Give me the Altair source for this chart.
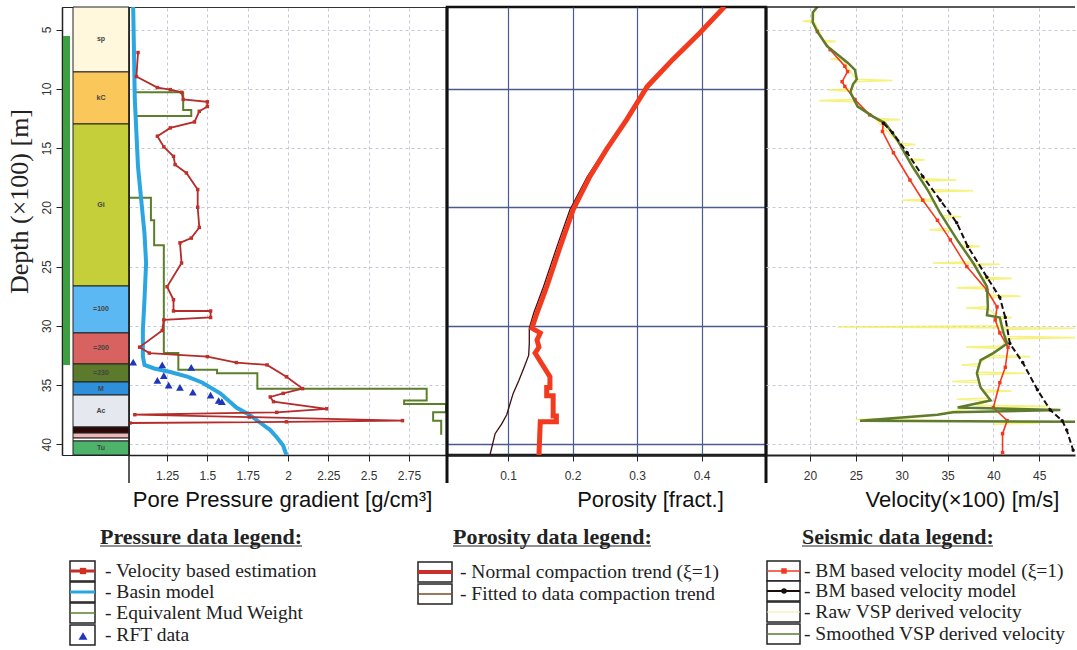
import altair as alt
import pandas as pd

# ---------------- data ----------------
# lithology column (depth in x100 m)
litho_names = ["sp", "kC", "Gi", "=100", "=200", "=230", "M", "Ac", "", "", "", "Tu"]
litho_top = [3.1, 8.58, 12.97, 26.64, 30.6, 33.22, 34.74, 35.84, 38.54, 39.05, 39.47, 39.72]
litho_bot = [8.58, 12.97, 26.64, 30.6, 33.22, 34.74, 35.84, 38.54, 39.05, 39.47, 39.72, 40.9]
litho_col = ["#FFF8DC", "#F9C75A", "#C5CF3A", "#5CB8F2", "#D7625F", "#5C7A2C",
             "#2E8FDB", "#E6E8F0", "#2A0808", "#F2B5B5", "#FFFFFF", "#4DB36A"]
gbar_top = [5.55]
gbar_bot = [33.3]

# pressure panel
basin_p = [1.04, 1.05, 1.07, 1.11, 1.12, 1.11, 1.10, 1.10, 1.11, 1.17, 1.27, 1.38, 1.47,
           1.58, 1.68, 1.76, 1.83, 1.89, 1.93, 1.97, 1.99]
basin_d = [3.1, 10.9, 16.6, 22.2, 24.7, 27.8, 30.4, 32.6, 33.3, 33.6, 33.9, 34.3, 34.8,
           35.7, 36.9, 37.5, 38.2, 38.8, 39.4, 40.1, 40.9]

vest_p = [1.07, 1.06, 1.19, 1.27, 1.34, 1.35, 1.50, 1.50, 1.45, 1.42, 1.27, 1.19, 1.23,
          1.29, 1.30, 1.37, 1.44, 1.44, 1.45, 1.40, 1.33, 1.34, 1.25, 1.29, 1.29, 1.52,
          1.52, 1.23, 1.22, 1.08, 1.14, 1.50, 1.68, 1.87, 1.99, 2.09, 1.97, 1.89, 1.91,
          2.24, 1.93, 1.05, 1.76, 2.71, 1.99, 1.02]
vest_d = [6.94, 8.97, 9.9, 10.07, 10.3, 10.9, 11.1, 11.5, 11.9, 12.8, 13.3, 14.0, 14.9,
          15.7, 16.4, 17.1, 18.5, 20.0, 21.7, 22.6, 23.0, 24.7, 26.7, 27.8, 28.75, 28.75,
          29.3, 29.5, 30.4, 31.8, 32.3, 32.6, 33.1, 33.3, 34.3, 35.3, 35.7, 36.0, 36.4,
          37.0, 37.3, 37.5, 37.7, 38.0, 38.1, 38.2]

emw_seg = ["a"] * 6 + ["b"] * 23
emw_p = [1.05, 1.35, 1.35, 1.40, 1.40, 1.05,
         1.02, 1.15, 1.15, 1.17, 1.17, 1.23, 1.23, 1.32, 1.32, 1.56, 1.56, 1.81, 1.81,
         2.86, 2.86, 2.72, 2.72, 2.98, 2.98, 2.90, 2.90, 2.95, 2.95]
emw_d = [10.3, 10.3, 11.8, 11.8, 12.3, 12.3,
         19.2, 19.2, 21.1, 21.1, 23.2, 23.2, 32.3, 32.3, 33.7, 33.7, 34.0, 34.0, 35.3,
         35.3, 36.3, 36.3, 36.6, 36.6, 37.3, 37.3, 38.0, 38.0, 39.2]

rft_p = [1.04, 1.22, 1.40, 1.23, 1.19, 1.26, 1.33, 1.41, 1.52, 1.57, 1.59]
rft_d = [33.07, 33.3, 33.5, 34.2, 34.6, 35.0, 35.2, 35.6, 35.85, 36.3, 36.4]

# porosity panel
normal_p = [0.436, 0.398, 0.356, 0.316, 0.284, 0.253, 0.227, 0.201, 0.181, 0.160, 0.145,
            0.137, 0.150, 0.145, 0.148, 0.142, 0.165, 0.165, 0.160, 0.160, 0.170, 0.170,
            0.175, 0.175, 0.150, 0.148]
normal_d = [3.06, 5.25, 7.5, 9.8, 12.6, 15.1, 17.4, 20.2, 23.3, 26.7, 28.9, 30.2, 30.6,
            31.2, 31.8, 32.3, 34.3, 35.2, 35.2, 35.9, 35.9, 37.6, 37.6, 38.1, 38.1, 40.9]
fitted_p = [0.434, 0.396, 0.354, 0.314, 0.282, 0.251, 0.223, 0.196, 0.176, 0.155, 0.140,
            0.133, 0.133, 0.132, 0.125, 0.117, 0.108, 0.103, 0.098, 0.090, 0.080, 0.076, 0.072]
fitted_d = [3.06, 5.25, 7.5, 9.8, 12.6, 15.1, 17.4, 20.2, 23.3, 26.7, 28.9, 30.2, 31.5,
            32.5, 33.5, 34.6, 35.7, 36.6, 37.5, 38.3, 39.1, 40.0, 40.9]

# velocity panel (x100 m/s)
bmxi_v = [20.8, 22.2, 23.8, 24.1, 23.5, 23.8, 24.9, 26.5, 28.0, 27.9, 29.1, 30.9, 32.3,
          33.9, 35.3, 37.1, 39.3, 40.4, 40.2, 40.7, 41.6, 41.3, 40.7, 40.0, 41.5, 41.0, 41.0]
bmxi_d = [5.17, 6.7, 8.1, 8.55, 9.4, 9.8, 10.9, 12.2, 12.9, 13.6, 15.4, 17.7, 19.4, 21.1,
          22.75, 25.0, 27.0, 28.4, 29.5, 30.6, 31.8, 33.5, 34.8, 36.9, 38.0, 39.1, 40.7]
bm_v = [28.0, 29.0, 30.6, 32.3, 34.2, 36.0, 37.2, 39.3, 40.7, 41.3, 41.8, 43.2, 44.8,
        46.2, 47.5, 48.0, 48.7]
bm_d = [12.9, 13.7, 15.4, 17.4, 19.4, 21.3, 23.3, 25.9, 27.6, 29.3, 31.5, 33.1, 35.4,
        37.1, 38.0, 38.8, 40.5]
smooth_v = [20.85, 20.3, 20.3, 20.85, 21.85, 23.3, 24.1, 24.9, 25.1, 24.7, 24.4, 25.2,
            26.9, 28.2, 29.5, 31.2, 32.8, 34.2, 36.05, 37.8, 39.3, 39.4, 39.3, 40.7, 41.1,
            41.5, 40.0, 38.6, 38.2, 38.6, 39.7, 36.1, 47.3, 35.6, 33.9, 25.45, 49.0]
smooth_d = [3.06, 3.56, 4.4, 5.25, 6.4, 7.3, 7.8, 8.4, 9.2, 9.6, 10.3, 11.5, 12.35, 12.9,
            14.3, 16.6, 18.5, 20.5, 22.75, 24.7, 26.7, 28.4, 29.1, 29.3, 30.6, 31.5, 32.3,
            32.9, 34.0, 35.2, 36.3, 36.9, 37.1, 37.3, 37.5, 38.0, 38.1]
raw_v = [20.5, 20.4, 19.2, 20.5, 21.5, 22.8, 21.6, 23.4, 22.3, 23.6, 25.0, 29.0, 25.0,
         24.5, 22.0, 24.5, 24.8, 21.0, 24.9, 27.1, 29.8, 27.3, 29.7, 31.5, 29.9, 30.7,
         32.5, 30.9, 32.1, 36.0, 32.3, 32.8, 37.8, 33.0, 33.4, 30.0, 33.6, 34.4, 36.5,
         34.6, 35.2, 33.0, 35.4, 36.4, 38.5, 36.6, 37.7, 33.4, 40.7, 37.9, 38.7, 42.0,
         38.9, 39.2, 36.0, 39.3, 39.4, 43.0, 39.4, 39.4, 37.0, 39.5, 40.4, 42.0, 40.6,
         40.8, 23.0, 49.0, 41.0, 41.2, 49.0, 41.3, 41.0, 37.0, 40.8, 39.4, 44.0, 39.2,
         38.5, 36.5, 38.4, 38.2, 43.5, 38.2, 38.4, 35.5, 38.4, 38.8, 42.0, 38.9, 39.5,
         36.0, 39.6, 38.2, 46.0, 37.8, 34.2, 34.0, 33.0, 30.0, 25.0, 35.0, 40.0, 45.0, 40.0]
raw_d = [3.2, 4.2, 4.3, 4.4, 5.9, 6.0, 6.1, 7.4, 7.5, 7.6, 9.2, 9.3, 9.4, 10.0, 10.1,
         10.2, 10.9, 11.0, 11.1, 12.5, 12.6, 12.7, 14.6, 14.7, 14.8, 15.9, 16.0, 16.1,
         17.6, 17.7, 17.8, 18.5, 18.6, 18.7, 19.3, 19.4, 19.5, 20.7, 20.8, 20.9, 21.8,
         21.9, 22.0, 23.2, 23.3, 23.4, 24.6, 24.7, 24.8, 24.9, 25.9, 26.0, 26.1, 26.7,
         26.8, 26.9, 27.4, 27.5, 27.6, 28.4, 28.5, 28.6, 29.2, 29.3, 29.4, 30.0, 30.1,
         30.2, 30.3, 30.9, 31.0, 31.1, 31.7, 31.8, 31.9, 32.5, 32.6, 32.7, 33.2, 33.3,
         33.4, 33.9, 34.0, 34.1, 34.6, 34.7, 34.8, 35.4, 35.5, 35.6, 36.1, 36.2, 36.3,
         36.7, 36.8, 36.9, 37.4, 37.5, 37.6, 37.8, 37.9, 38.0, 38.1, 38.2, 38.3]

depth_ticks = [5, 10, 15, 20, 25, 30, 35, 40]
press_ticks = [1.25, 1.5, 1.75, 2, 2.25, 2.5, 2.75]
poro_ticks = [0.1, 0.2, 0.3, 0.4]
poro_hgrid = [10, 20, 30, 40]
vel_ticks = [20, 25, 30, 35, 40, 45]

press_legend = ["- Velocity based estimation", "- Basin model",
                "- Equivalent Mud Weight", "- RFT data"]
poro_legend = ["- Normal compaction trend (\u03be=1)", "- Fitted to data compaction trend"]
seis_legend = ["- BM based velocity model (\u03be=1)", "- BM based velocity model",
               "- Raw VSP derived velocity", "- Smoothed VSP derived velocity"]

# ---------------- helpers ----------------
H = 448
Y_DOM = [3.1, 40.9]
SANS = "Liberation Sans"
SERIF = "Liberation Serif"
one = pd.DataFrame({"k": [0]})


def series(xs, ys, **extra):
    d = {"x": xs, "y": ys, "i": list(range(len(xs)))}
    d.update(extra)
    return pd.DataFrame(d)


def ysc():
    return alt.Scale(domain=Y_DOM, reverse=True, nice=False, zero=False)


def ygrid(values, color, dash, width):
    return alt.Axis(values=values, labels=False, ticks=False, domain=False, title=None,
                    grid=True, gridColor=color, gridDash=dash, gridWidth=width)


def txt(s, x, y, size=19.5, font=SERIF, weight="normal", color="#222"):
    return alt.Chart(one).mark_text(text=s, align="left", baseline="middle", fontSize=size,
                                    font=font, fontWeight=weight, color=color).encode(
        x=alt.value(x), y=alt.value(y))


def rule(x0, y0, x1, y1, color="#222", w=1.5, dash=None):
    kw = dict(color=color, strokeWidth=w)
    if dash:
        kw["strokeDash"] = dash
    return alt.Chart(one).mark_rule(**kw).encode(
        x=alt.value(x0), y=alt.value(y0), x2=alt.value(x1), y2=alt.value(y1))


def box(x0, y0, x1, y1):
    return alt.Chart(one).mark_rect(fill="white", stroke="#222", strokeWidth=1.5).encode(
        x=alt.value(x0), y=alt.value(y0), x2=alt.value(x1), y2=alt.value(y1))


def pt(x, y, shape, size, color):
    return alt.Chart(one).mark_point(shape=shape, filled=True, size=size, color=color,
                                     opacity=1).encode(x=alt.value(x), y=alt.value(y))


def xaxis(values, title, title_x, fmt=None, expr=None, grid_color="#C4C8D8", grid_dash=(3, 3),
          grid_w=1.0, dom_w=2.0):
    kw = dict(values=values, title=title, titleFont=SANS, titleFontSize=22,
              titleFontWeight="normal", titleColor="#111", titlePadding=8, titleX=title_x,
              labelFont=SANS, labelFontSize=12, labelColor="#333", labelPadding=9,
              tickSize=6, tickColor="#222", domainColor="#222", domainWidth=dom_w,
              grid=True, gridColor=grid_color, gridDash=list(grid_dash), gridWidth=grid_w)
    if fmt:
        kw["format"] = fmt
    if expr:
        kw["labelExpr"] = expr
    return alt.Axis(**kw)


# ---------------- panel: green strip with depth axis ----------------
gbar = pd.DataFrame({"top": gbar_top, "bot": gbar_bot})
strip = alt.Chart(gbar).mark_rect(color="#3CA040").encode(
    x=alt.value(1), x2=alt.value(8),
    y=alt.Y("top:Q", scale=ysc(), axis=alt.Axis(
        values=depth_ticks, title="Depth (\u00d7100) [m]", titleFont=SERIF, titleFontSize=26,
        titleFontWeight="normal", titleColor="#222", titlePadding=8, titleY=194,
        labelAngle=270, labelAlign="center", labelBaseline="bottom", labelFont=SANS,
        labelFontSize=12, labelColor="#333", labelPadding=3, tickSize=6, tickColor="#222",
        domainColor="#222", domainWidth=1.5, grid=False)),
    y2="bot:Q",
).properties(width=11, height=H, view=alt.ViewBackground(stroke="#222", strokeWidth=1))

# ---------------- panel: lithology ----------------
lith = pd.DataFrame({"name": litho_names, "top": litho_top, "bot": litho_bot, "col": litho_col})
lith["mid"] = (lith["top"] + lith["bot"]) / 2
lith_rect = alt.Chart(lith).mark_rect(stroke="#222", strokeWidth=1).encode(
    x=alt.value(0), x2=alt.value(56),
    y=alt.Y("top:Q", scale=ysc(), axis=None), y2="bot:Q",
    fill=alt.Fill("col:N", scale=None))
lith_text = alt.Chart(lith).mark_text(fontSize=7, font=SANS, fontWeight="bold", color="#444").encode(
    x=alt.value(28), y=alt.Y("mid:Q", scale=ysc(), axis=None), text="name:N")
litho = alt.layer(lith_rect, lith_text).properties(
    width=56, height=H, view=alt.ViewBackground(stroke="#222", strokeWidth=1))

# ---------------- panel: pore pressure ----------------
PX = alt.X("x:Q", scale=alt.Scale(domain=[1.014, 2.986], nice=False, zero=False),
           axis=xaxis(press_ticks, "Pore Pressure gradient [g/cm\u00b3]", 153,
                      expr="'' + datum.value", dom_w=1.5))
PY = alt.Y("y:Q", scale=ysc(), axis=ygrid(depth_ticks, "#C4C8D8", [3, 3], 1))

basin_df = series(basin_p, basin_d)
vest_df = series(vest_p, vest_d)
emw_df = series(emw_p, emw_d, seg=emw_seg)
rft_df = series(rft_p, rft_d)

p_layers = [
    alt.Chart(emw_df).mark_line(color="#5B7F2B", strokeWidth=2, clip=True).encode(
        x=PX, y=PY, order="i:Q", detail="seg:N"),
    alt.Chart(basin_df).mark_line(color="#2BA6E1", strokeWidth=4, clip=True).encode(
        x=PX, y=PY, order="i:Q"),
    alt.Chart(vest_df).mark_line(color="#B52A2A", strokeWidth=1.8, clip=True).encode(
        x=PX, y=PY, order="i:Q"),
    alt.Chart(vest_df).mark_point(shape="square", filled=True, size=12, color="#C0302A",
                                  opacity=1, clip=True).encode(x=PX, y=PY),
    alt.Chart(rft_df).mark_point(shape="triangle-up", filled=True, size=60, color="#1F36B8",
                                 opacity=1, clip=True).encode(x=PX, y=PY),
    rule(0, 0, 0, 476, "#222", 1.5),
]
# pressure legend (panel origin = abs (129, 7))
OX, OY = 129, 7
p_layers.append(txt("Pressure data legend:", 100 - OX, 537 - OY, size=22, weight="bold"))
p_layers.append(rule(100 - OX, 546 - OY, 302 - OX, 546 - OY, "#222", 1.2))
prow = [571, 592, 613, 635]
for i, lab in enumerate(press_legend):
    cy = prow[i] - OY
    p_layers.append(box(70 - OX, cy - 10, 95 - OX, cy + 10))
    p_layers.append(txt(lab, 105 - OX, cy))
p_layers.append(rule(70 - OX, prow[0] - OY, 95 - OX, prow[0] - OY, "#C0302A", 3))
p_layers.append(pt(83 - OX, prow[0] - OY, "square", 40, "#D03020"))
p_layers.append(rule(70 - OX, prow[1] - OY, 95 - OX, prow[1] - OY, "#2BA6E1", 3))
p_layers.append(rule(70 - OX, prow[2] - OY, 95 - OX, prow[2] - OY, "#5B7F2B", 1.5))
p_layers.append(pt(83 - OX, prow[3] - OY + 1, "triangle-up", 80, "#1F36B8"))

pressure = alt.layer(*p_layers).properties(
    width=318, height=H, view=alt.ViewBackground(stroke="#333", strokeWidth=1))

# ---------------- panel: porosity ----------------
QX = alt.X("x:Q", scale=alt.Scale(domain=[0.0054, 0.5], nice=False, zero=False),
           axis=xaxis(poro_ticks, "Porosity [fract.]", 203, fmt=".1f", grid_color="#4B5B8C",
                      grid_dash=(1, 0), grid_w=1.2, dom_w=2.5))
QY = alt.Y("y:Q", scale=ysc(), axis=ygrid(poro_hgrid, "#4B5B8C", [1, 0], 1.5))

normal_df = series(normal_p, normal_d)
fitted_df = series(fitted_p, fitted_d)
q_layers = [
    alt.Chart(fitted_df).mark_line(color="#3B0F0F", strokeWidth=1.3, clip=True).encode(
        x=QX, y=QY, order="i:Q"),
    alt.Chart(normal_df).mark_line(color="#F23A1F", strokeWidth=5, clip=True).encode(
        x=QX, y=QY, order="i:Q"),
    rule(0, 0, 0, 476, "#111", 3),
    rule(319, 0, 319, 476, "#111", 3),
]
OX = 447
q_layers.append(txt("Porosity data legend:", 453 - OX, 537 - OY, size=22, weight="bold"))
q_layers.append(rule(453 - OX, 546 - OY, 651 - OX, 546 - OY, "#222", 1.2))
qrow = [572, 594]
for i, lab in enumerate(poro_legend):
    cy = qrow[i] - OY
    q_layers.append(box(418 - OX, cy - 10, 452 - OX, cy + 10))
    q_layers.append(txt(lab, 460 - OX, cy))
q_layers.append(rule(418 - OX, qrow[0] - OY, 452 - OX, qrow[0] - OY, "#C9302C", 4))
q_layers.append(rule(418 - OX, qrow[1] - OY, 452 - OX, qrow[1] - OY, "#7A4A2A", 1.5))

porosity = alt.layer(*q_layers).properties(
    width=319, height=H, view=alt.ViewBackground(stroke="#111", strokeWidth=2.5))

# ---------------- panel: velocity ----------------
VX = alt.X("x:Q", scale=alt.Scale(domain=[15.2, 48.9], nice=False, zero=False),
           axis=xaxis(vel_ticks, "Velocity(\u00d7100) [m/s]", 196, fmt="d"))
VY = alt.Y("y:Q", scale=ysc(), axis=ygrid(depth_ticks, "#C4C8D8", [3, 3], 1))

raw_df = series(raw_v, raw_d)
smooth_df = series(smooth_v, smooth_d)
bmxi_df = series(bmxi_v, bmxi_d)
bm_df = series(bm_v, bm_d)
v_layers = [
    alt.Chart(raw_df).mark_line(color="#F2EE55", strokeWidth=1.6, opacity=0.75, clip=True).encode(
        x=VX, y=VY, order="i:Q"),
    alt.Chart(bmxi_df).mark_line(color="#F23A1F", strokeWidth=1.6, clip=True).encode(
        x=VX, y=VY, order="i:Q"),
    alt.Chart(bmxi_df).mark_point(shape="square", filled=True, size=12, color="#F23A1F",
                                  opacity=1, clip=True).encode(x=VX, y=VY),
    alt.Chart(smooth_df).mark_line(color="#5F7B2F", strokeWidth=2.5, clip=True).encode(
        x=VX, y=VY, order="i:Q"),
    alt.Chart(bm_df).mark_line(color="#1A0D0D", strokeWidth=2, strokeDash=[6, 3], clip=True).encode(
        x=VX, y=VY, order="i:Q"),
    alt.Chart(bm_df).mark_point(shape="circle", filled=True, size=12, color="#1A0D0D",
                                opacity=1, clip=True).encode(x=VX, y=VY),
    rule(0, 0, 309, 0, "#222", 1.5),
]
OX = 766
v_layers.append(txt("Seismic data legend:", 802 - OX, 537 - OY, size=22, weight="bold"))
v_layers.append(rule(802 - OX, 546 - OY, 993 - OX, 546 - OY, "#222", 1.2))
vrow = [571, 591, 612, 634]
for i, lab in enumerate(seis_legend):
    cy = vrow[i] - OY
    v_layers.append(box(767 - OX, cy - 10, 800 - OX, cy + 10))
    v_layers.append(txt(lab, 804 - OX, cy, size=19.5))
v_layers.append(rule(767 - OX, vrow[0] - OY, 800 - OX, vrow[0] - OY, "#F23A1F", 1.5))
v_layers.append(pt(784 - OX, vrow[0] - OY, "square", 30, "#F23A1F"))
v_layers.append(rule(767 - OX, vrow[1] - OY, 800 - OX, vrow[1] - OY, "#1A0D0D", 2))
v_layers.append(pt(784 - OX, vrow[1] - OY, "circle", 30, "#1A0D0D"))
v_layers.append(rule(767 - OX, vrow[2] - OY, 800 - OX, vrow[2] - OY, "#F2EE99", 1))
v_layers.append(rule(767 - OX, vrow[3] - OY, 800 - OX, vrow[3] - OY, "#5F7B2F", 1.5))

velocity = alt.layer(*v_layers).properties(
    width=309, height=H, view=alt.ViewBackground(stroke=None, strokeWidth=0))

chart = alt.hconcat(strip, litho, pressure, porosity, velocity, spacing=0, bounds="flush"
                    ).properties(padding={"left": 5, "top": 4, "right": 0, "bottom": 0}
                    ).configure(background="white")

chart.save("out.html", embed_options={"renderer": "svg", "actions": False})
